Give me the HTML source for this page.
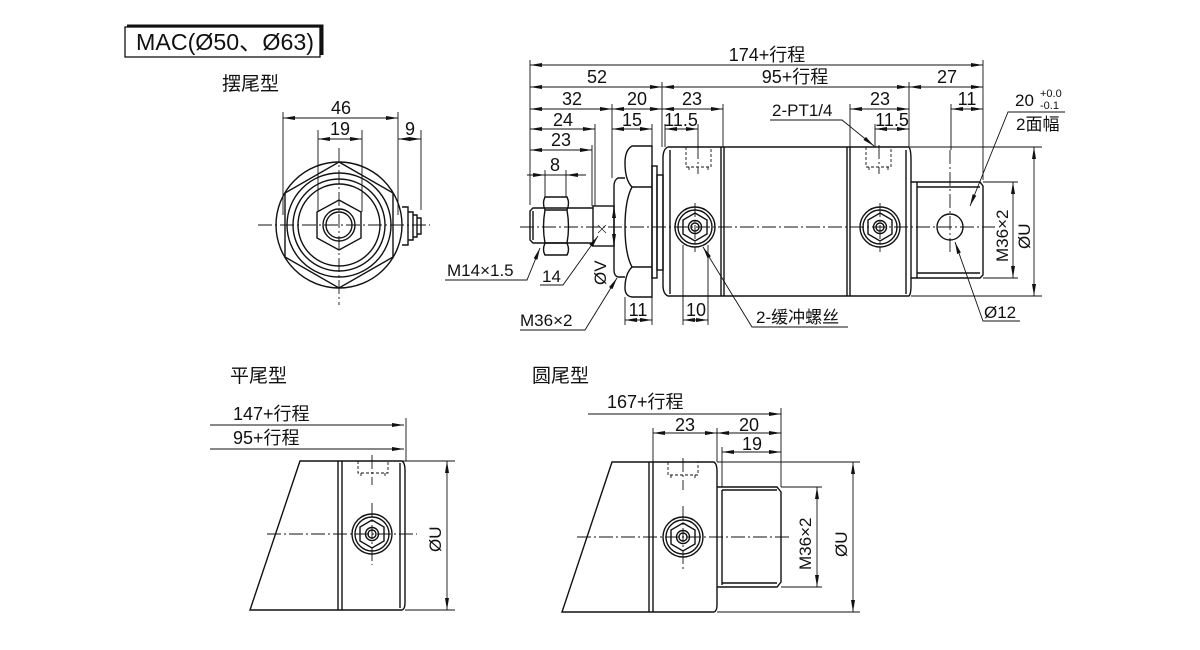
<!DOCTYPE html>
<html><head><meta charset="utf-8"><style>
html,body{margin:0;padding:0;background:#fff}
svg{display:block}
text{font-family:"Liberation Sans","Noto Sans CJK SC",sans-serif;fill:#111}
</style></head><body>
<svg width="1200" height="650" viewBox="0 0 1200 650" xmlns="http://www.w3.org/2000/svg">
<defs>
<marker id="a" viewBox="0 0 12 4" refX="12" refY="2" markerWidth="12" markerHeight="4" markerUnits="userSpaceOnUse" orient="auto-start-reverse"><path d="M0,0 L12,2 L0,4 z" fill="#111"/></marker>
</defs>
<g stroke="#111" fill="none" stroke-width="1">

<rect x="125" y="27" width="195" height="30" stroke-width="1.3"/>
<path d="M127,26 H322 V55" stroke-width="3"/>

<g stroke-width="1.4">
<circle cx="339" cy="225" r="63"/>
<polygon points="339,162 393,193 393,257 339,288 285,257 285,193"/>
<circle cx="339" cy="225" r="52"/>
<circle cx="339" cy="225" r="46"/>
<circle cx="339" cy="225" r="41"/>
<polygon points="339,200 361,212 361,238 339,250 317,238 317,212"/>
<circle cx="339" cy="225" r="16"/>
<circle cx="339" cy="225" r="13"/>
<path d="M402,207 h6 v38 h-6 M408,212 h5 v28 h-5 M413,215 h4 v22 h-4 M417,218 h4 v16 h-4"/>
</g>
<path d="M258,225 H430 M339,148 V305" stroke-dasharray="14,3,2,3" stroke-width="0.9"/>
<g stroke-width="0.9">
<path d="M283,112 V215 M398,112 V215 M318,130 V212 M362,130 V212 M421,130 V210"/>
<path d="M283,118 H398" marker-start="url(#a)" marker-end="url(#a)"/>
<path d="M318,139 H362" marker-start="url(#a)" marker-end="url(#a)"/>
<path d="M398,139 H421" marker-start="url(#a)" marker-end="url(#a)"/>
</g>

<g stroke-width="1.4">
<path d="M668,147 H909 Q911,150 911,160 V285 Q911,294 909,296 H668 Q663,294 663,285 V158 Q663,149 668,147 Z"/>
<path d="M670,150 V294 M721,147 V296 M724,147 V296 M847,147 V296 M850,147 V296 M906,150 V294"/>
<path d="M911,182 H980 L983,186 V275 L980,278 H911"/>
<path d="M917,187 H980 M917,273 H980 M917,182 V278"/>
<circle cx="950" cy="227" r="13"/>
<rect x="652" y="166" width="5" height="112"/>
<rect x="657" y="175" width="6" height="95"/>
<path d="M652,146 H632 Q625,150 625,163 Q625,180 632,187 Q625,200 625,227 Q625,254 632,267 Q625,274 625,288 Q625,296 632,297 H652 Z"/>
<path d="M632,187 H652 M632,267 H652"/>
<path d="M625,178 H618 Q614,180 614,186 V270 Q614,276 618,277 H625"/>
<rect x="593" y="206" width="21" height="40"/>
<path d="M598,233 l8,-8 M598,225 l8,8" stroke-width="0.7"/>
<path d="M593,208 H533 L530,211 V240 L533,243 H593 M533,211 V240"/>
<path d="M545,197 H567 Q570,203 567,210 Q570,227 567,243 Q570,250 567,255 H545 Q542,250 545,243 Q542,227 545,210 Q542,203 545,197 Z M545,210 H567 M545,243 H567"/>
<circle cx="695" cy="227" r="20"/><circle cx="695" cy="227" r="17"/>
<polygon points="695,213 707,220 707,234 695,241 683,234 683,220"/>
<circle cx="695" cy="227" r="6.5"/><circle cx="695" cy="227" r="4"/>
<circle cx="880" cy="227" r="20"/><circle cx="880" cy="227" r="17"/>
<polygon points="880,213 892,220 892,234 880,241 868,234 868,220"/>
<circle cx="880" cy="227" r="6.5"/><circle cx="880" cy="227" r="4"/>
</g>
<g stroke-width="0.9" stroke-dasharray="3,2">
<path d="M686,147 V167 H711 V147 M689,167 V171 M708,167 V171"/>
<path d="M866,147 V167 H891 V147 M869,167 V171 M888,167 V171"/>
</g>
<path d="M520,227 H995 M695,203 V252 M880,203 V252 M950,150 V255 M698,145 V174 M879,145 V174" stroke-dasharray="14,3,2,3" stroke-width="0.9"/>

<g stroke-width="0.9">
<path d="M530,60 V205 M983,60 V180 M662,82 V147 M909,82 V147 M612,104 V178 M723,104 V147 M850,104 V147 M951,104 V150 M595,124 V206 M652,124 V146 M665,124 V147 M698,124 V147 M875,124 V147 M592,145 V206 M545,170 V197 M566,170 V197 M625,297 V325 M652,297 V325 M683,245 V325 M708,245 V325"/>
<path d="M530,65 H983" marker-start="url(#a)" marker-end="url(#a)"/>
<path d="M530,87 H662" marker-start="url(#a)" marker-end="url(#a)"/>
<path d="M662,87 H909" marker-start="url(#a)" marker-end="url(#a)"/>
<path d="M909,87 H983" marker-start="url(#a)" marker-end="url(#a)"/>
<path d="M530,109 H612" marker-start="url(#a)" marker-end="url(#a)"/>
<path d="M612,109 H662" marker-start="url(#a)" marker-end="url(#a)"/>
<path d="M662,109 H723" marker-start="url(#a)" marker-end="url(#a)"/>
<path d="M850,109 H909" marker-start="url(#a)" marker-end="url(#a)"/>
<path d="M951,109 H983" marker-start="url(#a)" marker-end="url(#a)"/>
<path d="M530,129 H595" marker-start="url(#a)" marker-end="url(#a)"/>
<path d="M612,129 H652" marker-start="url(#a)" marker-end="url(#a)"/>
<path d="M665,129 H698" marker-start="url(#a)" marker-end="url(#a)"/>
<path d="M875,129 H909" marker-start="url(#a)" marker-end="url(#a)"/>
<path d="M530,150 H592" marker-start="url(#a)" marker-end="url(#a)"/>
<path d="M527,175 H545" marker-end="url(#a)"/>
<path d="M586,175 H566" marker-end="url(#a)"/>
<path d="M545,175 H566"/>
<path d="M625,320 H652" marker-start="url(#a)" marker-end="url(#a)"/>
<path d="M683,320 H708" marker-start="url(#a)" marker-end="url(#a)"/>
<path d="M910,147 H1042 M983,182 H1018 M983,278 H1018 M911,296 H1042"/>
<path d="M1034,147 V296" marker-start="url(#a)" marker-end="url(#a)"/>
<path d="M1013,182 V278" marker-start="url(#a)" marker-end="url(#a)"/>
<path d="M614,206 V246" marker-start="url(#a)" marker-end="url(#a)"/>
<path d="M445,280 H527 L540,248" marker-end="url(#a)"/>
<path d="M540,285 H563 L598,236" marker-end="url(#a)"/>
<path d="M520,330 H585 L617,278" marker-end="url(#a)"/>
<path d="M848,327 H752 L703,247" marker-end="url(#a)"/>
<path d="M770,120 H842 L874,146" marker-end="url(#a)"/>
<path d="M1020,321 H983 L955,242" marker-end="url(#a)"/>
<path d="M1065,112 H1008 L970,206" marker-end="url(#a)"/>
</g>

<g stroke-width="1.4">
<path d="M300,461 H402 Q405,463 405,470 V603 Q405,609 402,610 H250 Z"/>
<path d="M338,461 V610 M342,461 V610 M400,463 V608"/>
<circle cx="372" cy="534" r="20"/><circle cx="372" cy="534" r="17"/>
<polygon points="372,520 384,527 384,541 372,548 360,541 360,527"/>
<circle cx="372" cy="534" r="6.5"/><circle cx="372" cy="534" r="4"/>
</g>
<path d="M358,461 V473 H388 V461 M361,473 V476 M385,473 V476" stroke-dasharray="3,2" stroke-width="0.9"/>
<path d="M267,534 H417 M372,455 V485 M372,503 V565" stroke-dasharray="14,3,2,3" stroke-width="0.9"/>
<g stroke-width="0.9">
<path d="M406,418 V461 M402,461 H455 M405,610 H455"/>
<path d="M210,425 H404" marker-end="url(#a)"/>
<path d="M210,449 H404" marker-end="url(#a)"/>
<path d="M447,461 V610" marker-start="url(#a)" marker-end="url(#a)"/>
</g>

<g stroke-width="1.4">
<path d="M612,462 H714 Q717,464 717,471 V605 Q717,611 714,612 H562 Z"/>
<path d="M649,462 V612 M653,462 V612"/>
<path d="M717,487 H777 L781,492 V582 L777,587 H717 M722,490 V585 M722,490 H777 M722,583 H777"/>
<circle cx="683" cy="537" r="20"/><circle cx="683" cy="537" r="17"/>
<polygon points="683,523 695,530 695,544 683,551 671,544 671,530"/>
<circle cx="683" cy="537" r="6.5"/><circle cx="683" cy="537" r="4"/>
</g>
<path d="M668,462 V475 H698 V462 M671,475 V478 M695,475 V478" stroke-dasharray="3,2" stroke-width="0.9"/>
<path d="M577,537 H792 M683,458 V490 M683,506 V570" stroke-dasharray="14,3,2,3" stroke-width="0.9"/>
<g stroke-width="0.9">
<path d="M653,428 V462 M717,428 V462 M722,447 V487 M781,408 V487 M717,462 H860 M781,487 H822 M781,587 H822 M717,612 H860"/>
<path d="M588,414 H781" marker-end="url(#a)"/>
<path d="M653,433 H717" marker-start="url(#a)" marker-end="url(#a)"/>
<path d="M717,433 H781" marker-start="url(#a)" marker-end="url(#a)"/>
<path d="M722,452 H781" marker-start="url(#a)" marker-end="url(#a)"/>
<path d="M817,487 V587" marker-start="url(#a)" marker-end="url(#a)"/>
<path d="M853,462 V612" marker-start="url(#a)" marker-end="url(#a)"/>
</g>
</g>

<text x="136" y="50" font-size="23" textLength="178" lengthAdjust="spacingAndGlyphs">MAC(Ø50、Ø63)</text>
<g font-size="19">
<text x="222" y="90">摆尾型</text>
<text x="230" y="382">平尾型</text>
<text x="532" y="382">圆尾型</text>
</g>
<g font-size="18" text-anchor="middle">
<text x="341" y="114">46</text>
<text x="340" y="135">19</text>
<text x="410" y="135">9</text>
<text x="767" y="61">174+行程</text>
<text x="597" y="83">52</text>
<text x="795" y="83">95+行程</text>
<text x="947" y="83">27</text>
<text x="572" y="105">32</text>
<text x="637" y="105">20</text>
<text x="692" y="105">23</text>
<text x="880" y="105">23</text>
<text x="967" y="105">11</text>
<text x="563" y="126">24</text>
<text x="632" y="126">15</text>
<text x="681" y="126">11.5</text>
<text x="892" y="126">11.5</text>
<text x="561" y="146">23</text>
<text x="555" y="171">8</text>
<text x="638" y="316">11</text>
<text x="696" y="316">10</text>
<text x="685" y="431">23</text>
<text x="749" y="431">20</text>
<text x="752" y="450">19</text>
</g>
<g font-size="17">
<text x="447" y="276">M14×1.5</text>
<text x="542" y="282">14</text>
<text x="520" y="326">M36×2</text>
<text x="756" y="323">2-缓冲螺丝</text>
<text x="772" y="116">2-PT1/4</text>
<text x="984" y="318">Ø12</text>
<text x="1015" y="106">20</text>
<text x="1040" y="97" font-size="11">+0.0</text>
<text x="1040" y="109" font-size="11">-0.1</text>
<text x="1016" y="130">2面幅</text>
<text x="233" y="420" font-size="18">147+行程</text>
<text x="233" y="444" font-size="18">95+行程</text>
<text x="607" y="408" font-size="18">167+行程</text>
<text transform="translate(606,285) rotate(-90)">ØV</text>
<text transform="translate(1008,262) rotate(-90)">M36×2</text>
<text transform="translate(1030,249) rotate(-90)">ØU</text>
<text transform="translate(441,552) rotate(-90)">ØU</text>
<text transform="translate(811,570) rotate(-90)">M36×2</text>
<text transform="translate(847,557) rotate(-90)">ØU</text>
</g>
</svg>
</body></html>
